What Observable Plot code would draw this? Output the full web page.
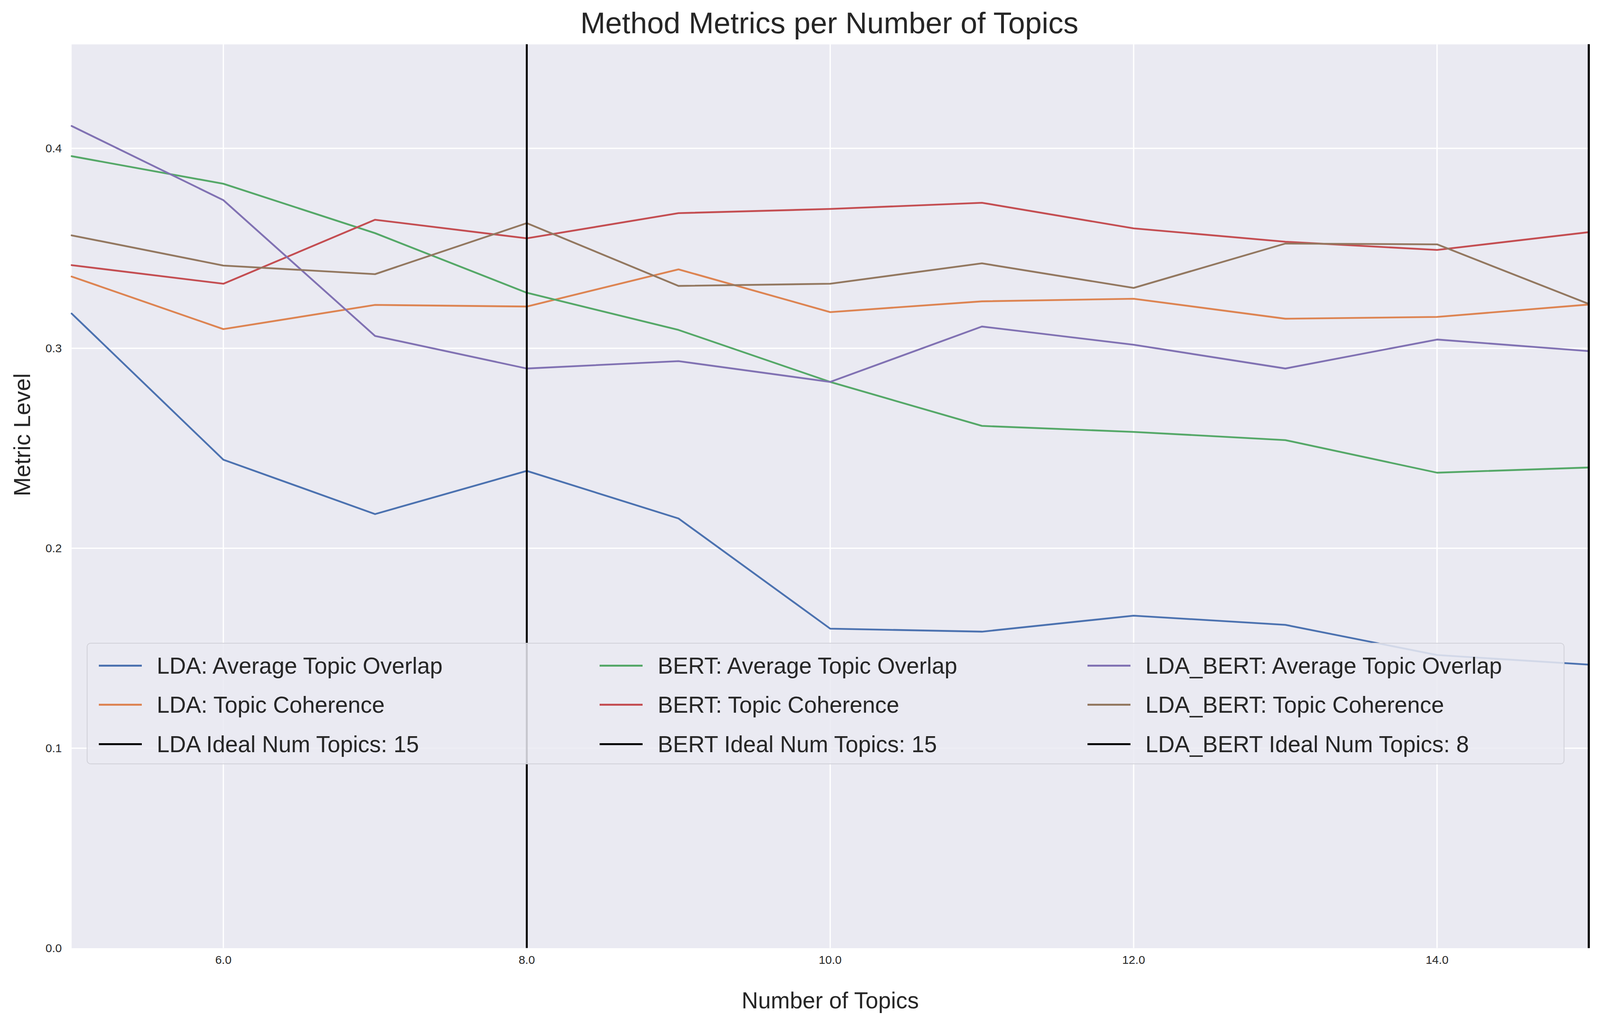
<!DOCTYPE html>
<html>
<head>
<meta charset="utf-8">
<script src="https://cdn.jsdelivr.net/npm/d3@7"></script>
<script src="https://cdn.jsdelivr.net/npm/@observablehq/plot@0.6"></script>
<style>
  html, body { margin: 0; background: #fff; font-family: "Liberation Sans", Arial, sans-serif; overflow: hidden; }
  #wrap { position: relative; }
  #title { text-align: center; color: #262626; }
  #legend { position: absolute; box-sizing: border-box; border-style: solid; border-color: #d0d0d8;
    background: rgba(234,234,242,0.85); display: grid; color: #262626; }
  .item { display: flex; align-items: center; white-space: nowrap; }
</style>
</head>
<body>
<div id="wrap">
  <div id="title">Method Metrics per Number of Topics</div>
  <div id="chart"></div>
  <div id="legend"></div>
</div>
<script>
const topics = [5, 6, 7, 8, 9, 10, 11, 12, 13, 14, 15];
const ldaOverlap = [0.3174, 0.2443, 0.2171, 0.2387, 0.2149, 0.1598, 0.1583, 0.1663, 0.1617, 0.1466, 0.1418];
const ldaCoherence = [0.3359, 0.3096, 0.3217, 0.3209, 0.3395, 0.3181, 0.3235, 0.3248, 0.3148, 0.3157, 0.3219];
const bertOverlap = [0.3961, 0.3823, 0.3576, 0.3278, 0.3092, 0.2832, 0.2612, 0.2582, 0.2541, 0.2378, 0.2404];
const bertCoherence = [0.3416, 0.3323, 0.3643, 0.3550, 0.3676, 0.3697, 0.3728, 0.3600, 0.3533, 0.3492, 0.3581];
const ldabertOverlap = [0.4112, 0.3741, 0.3062, 0.2899, 0.2936, 0.2832, 0.3109, 0.3018, 0.2899, 0.3044, 0.2986];
const ldabertCoherence = [0.3565, 0.3414, 0.3371, 0.3626, 0.3312, 0.3323, 0.3425, 0.3302, 0.3524, 0.3520, 0.3222];
const idealNames = ["LDA Ideal Num Topics: 15", "BERT Ideal Num Topics: 15", "LDA_BERT Ideal Num Topics: 8"];
const idealTopics = [15, 15, 8];
const xTicks = [6, 8, 10, 12, 14];
const yTicks = [0, 0.1, 0.2, 0.3, 0.4];

const series = [
  ["LDA: Average Topic Overlap", ldaOverlap, "#4C72B0"],
  ["LDA: Topic Coherence", ldaCoherence, "#DD8452"],
  ["BERT: Average Topic Overlap", bertOverlap, "#55A868"],
  ["BERT: Topic Coherence", bertCoherence, "#C44E52"],
  ["LDA_BERT: Average Topic Overlap", ldabertOverlap, "#8172B3"],
  ["LDA_BERT: Topic Coherence", ldabertCoherence, "#937860"]
];
const rows = series.flatMap(([name, vals]) => vals.map((v, i) => ({name, x: topics[i], y: v})));
const ideals = idealTopics.map((t, i) => ({name: idealNames[i], x: t}));

// size everything relative to the actual window (reference is 4905 x 2599)
const W = window.innerWidth || 4905;
const H = window.innerHeight || 2599;
const k = Math.min(W / 4905, H / 2599);
const px = v => v * k;

const titleH = px(130);
d3.select("#wrap").style("width", W + "px").style("height", H + "px");
d3.select("#title").style("height", titleH + "px").style("font-size", px(92) + "px")
  .style("line-height", px(140) + "px").style("padding-left", px(180) + "px");

const chart = Plot.plot({
  width: W,
  height: H - titleH,
  marginTop: px(5),
  marginBottom: px(206),
  marginLeft: px(219),
  marginRight: px(35),
  style: {fontFamily: "Liberation Sans, Arial, sans-serif", fontSize: px(36) + "px", color: "#262626", background: "#fff", maxWidth: "none"},
  x: {domain: [5, 15]},
  y: {domain: [0, 0.452]},
  color: {domain: series.map(s => s[0]), range: series.map(s => s[2])},
  marks: [
    Plot.frame({fill: "#EAEAF2", stroke: null}),
    Plot.gridX(xTicks, {stroke: "#fff", strokeOpacity: 1, strokeWidth: px(4)}),
    Plot.gridY(yTicks.slice(1), {stroke: "#fff", strokeOpacity: 1, strokeWidth: px(4)}),
    Plot.axisX(xTicks, {tickSize: 0, tickPadding: px(22), fontSize: px(36), label: null}),
    Plot.axisY(yTicks, {tickSize: 0, tickPadding: px(30), fontSize: px(36), tickFormat: d3.format(".1f"), label: null}),
    Plot.line(rows, {x: "x", y: "y", z: "name", stroke: "name", strokeWidth: px(5.5)}),
    Plot.ruleX(ideals, {x: "x", stroke: "#000", strokeWidth: px(6)}),
    Plot.text(["Number of Topics"], {frameAnchor: "bottom", dy: px(185), fontSize: px(70), fill: "#262626"}),
    Plot.text(["Metric Level"], {frameAnchor: "left", dx: -px(150), rotate: -90, fontSize: px(70), fill: "#262626"})
  ]
});
d3.select("#chart").append(() => chart);

// legend in matplotlib column order
const leg = d3.select("#legend")
  .style("left", px(266) + "px").style("top", px(1971) + "px")
  .style("width", px(4530) + "px").style("height", px(372) + "px")
  .style("border-width", px(3) + "px").style("border-radius", px(12) + "px")
  .style("grid-template-columns", `${px(1536)}px ${px(1495)}px ${px(1450)}px`)
  .style("grid-template-rows", `repeat(3, ${px(120)}px)`)
  .style("padding", `${px(8)}px 0 0 ${px(34)}px`).style("font-size", px(70) + "px");
const legendItems = [
  [series[0][0], series[0][2]], [series[2][0], series[2][2]], [series[4][0], series[4][2]],
  [series[1][0], series[1][2]], [series[3][0], series[3][2]], [series[5][0], series[5][2]],
  [idealNames[0], "#000"], [idealNames[1], "#000"], [idealNames[2], "#000"]
];
legendItems.forEach(([name, c]) => {
  const it = leg.append("div").attr("class", "item");
  it.append("div").style("width", px(132) + "px").style("height", px(6) + "px")
    .style("margin-right", px(46) + "px").style("background", c);
  it.append("span").text(name);
});
</script>
</body>
</html>
